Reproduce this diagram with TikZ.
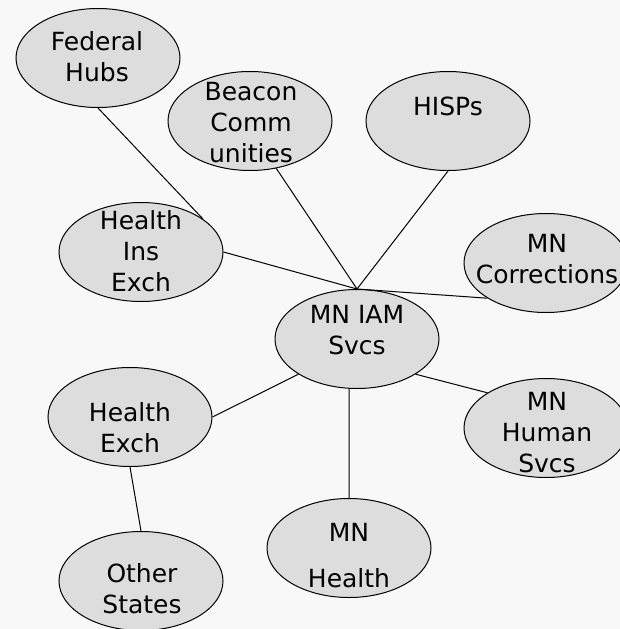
\documentclass[tikz,border=0pt]{standalone}
\usepackage{fontspec}
\usetikzlibrary{shapes.geometric}
\newfontfamily\svcfont{DejaVu Sans}
\definecolor{pagebg}{HTML}{F8F8F8}
\definecolor{svcfill}{HTML}{DDDDDD}
\tikzset{
  svc/.style={ellipse, draw=black, fill=svcfill, line width=1pt,
    minimum width=164pt, minimum height=99pt, inner sep=0pt},
  svctext/.style={align=center, inner sep=0pt,
    font=\svcfont\fontsize{25}{31}\selectfont},
  link/.style={draw=black, line width=1pt},
}
\begin{document}
\begin{tikzpicture}[x=1pt, y=-1pt]%
   % 1 unit = 1 pixel of the 620 x 629 layout, y running down
   \fill[pagebg] (0,0) rectangle (620,629);
   \useasboundingbox (0,0) rectangle (620,629);

   % Ellipses
   \node[svc] (fed)    at (98,58)   {};
   \node[svc] (beacon) at (250,121) {};
   \node[svc] (hisps)  at (448,121) {};
   \node[svc] (hins)   at (141,252) {};
   \node[svc] (corr)   at (546,263) {};
   \node[svc] (iam)    at (357,339) {};
   \node[svc] (human)  at (546,428) {};
   \node[svc] (mnh)    at (349,548) {};
   \node[svc] (hexch)  at (130,417) {};
   \node[svc] (other)  at (141,581) {};

   % Links to the hub
   \draw[link] (fed.south)  -- (hins.28);
   \draw[link] (beacon.-61) -- (iam.north);
   \draw[link] (hisps.south) -- (iam.north);
   \draw[link] (hins.east)  -- (iam.north);
   \draw[link] (corr.211)   -- (iam.north);
   \draw[link] (iam.211)    -- (hexch.east);
   \draw[link] (iam.-31)    -- (human.149);
   \draw[link] (iam.-99)    -- (mnh.north);
   \draw[link] (hexch.south) -- (other.north);

   % Labels
   \node[svctext] (fed-t)    at (97,57)   {Federal\\Hubs};
   \node[svctext] (beacon-t) at (251,123) {Beacon\\Comm\\unities};
   \node[svctext] (hisps-t)  at (448,106) {HISPs};
   \node[svctext] (hins-t)   at (141,251) {Health\\Ins\\Exch};
   \node[svctext] (corr-t)   at (547,259) {MN\\Corrections};
   \node[svctext] (iam-t)    at (357,330) {MN IAM\\Svcs};
   \node[svctext] (human-t)  at (547,433) {MN\\Human\\Svcs};
   \node[svctext] (mnh-t)    at (349,556) {MN\\[15pt]Health};
   \node[svctext] (hexch-t)  at (130,428) {Health\\Exch};
   \node[svctext] (other-t)  at (142,589) {Other\\States};
 \end{tikzpicture}
\end{document}
